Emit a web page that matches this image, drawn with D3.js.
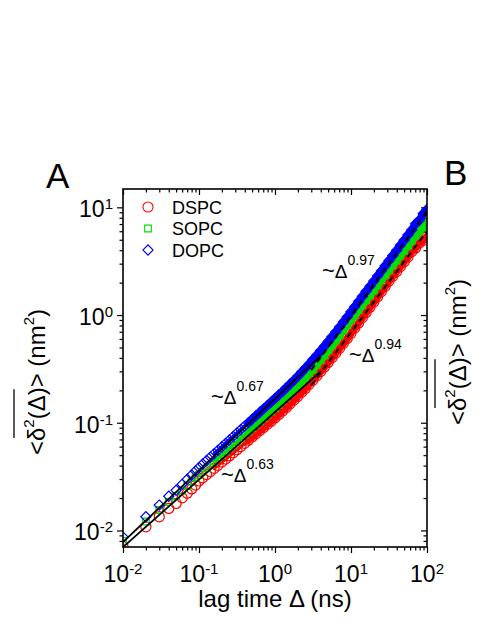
<!DOCTYPE html>
<html><head><meta charset="utf-8">
<script src="https://cdn.jsdelivr.net/npm/d3@7"></script>
<style>html,body{margin:0;padding:0;background:#fff;} svg{display:block;font-family:Arial,"Liberation Sans",sans-serif;}</style>
</head><body><svg id="c" width="480" height="621"></svg>
<script>
// ---------- data ----------
const lagTimes = [0.01,0.02,0.03,0.04,0.05,0.06,0.07,0.08,0.09,
0.1,0.112,0.126,0.141,0.158,0.178,0.2,0.224,0.251,0.282,0.316,0.355,0.398,0.447,0.501,0.562,0.631,0.708,0.794,0.891,
1,1.12,1.26,1.41,1.58,1.78,2,2.24,2.51,2.82,3.16,3.55,3.98,4.47,5.01,5.62,6.31,7.08,7.94,8.91,
10,11.2,12.6,14.1,15.8,17.8,20,22.4,25.1,28.2,31.6,35.5,39.8,44.7,50.1,56.2,63.1,70.8,79.4,89.1,100];

const dspcValues = [0.0071,0.0108,0.0134,0.0160,0.0178,0.0201,0.0222,0.0243,0.0264,
0.0288,0.0308,0.0330,0.0352,0.0377,0.0403,0.0431,0.0460,0.0492,0.0526,0.0562,0.0601,0.0644,0.0689,0.0738,0.0789,0.0845,0.0904,0.0968,0.1035,
0.1109,0.1191,0.1285,0.1387,0.1500,0.1622,0.1762,0.1914,0.2084,0.2275,0.2489,0.2729,0.2992,0.3296,0.3631,0.4009,0.4436,0.4909,0.5458,0.6067,
0.6761,0.7568,0.8453,0.9462,1.057,1.183,1.321,1.479,1.652,1.849,2.065,2.291,2.535,2.818,3.126,3.451,3.890,4.198,4.677,4.932,5.370];

const sopcValues = [0.0080,0.0121,0.0155,0.0184,0.0209,0.0235,0.0260,0.0284,0.0308,
0.0327,0.0352,0.0378,0.0406,0.0436,0.0468,0.0502,0.0540,0.0579,0.0622,0.0668,0.0718,0.0771,0.0828,0.0889,0.0955,0.1026,0.1102,0.1183,0.1271,
0.1365,0.1469,0.1589,0.1718,0.1862,0.2018,0.2198,0.2393,0.2612,0.2858,0.3133,0.3459,0.3819,0.4236,0.4699,0.5224,0.5808,0.6457,0.7211,0.8054,
0.9016,1.002,1.112,1.236,1.371,1.524,1.694,1.888,2.099,2.339,2.600,2.891,3.206,3.565,3.954,4.406,4.898,5.470,5.957,6.531,7.161];

const dopcValues = [0.00867,0.0134,0.0172,0.0208,0.0236,0.0268,0.0299,0.0328,0.0356,
0.0385,0.0414,0.0446,0.0480,0.0516,0.0556,0.0598,0.0644,0.0693,0.0746,0.0803,0.0865,0.0931,0.1002,0.1079,0.1161,0.1250,0.1346,0.1449,0.1560,
0.168,0.181,0.195,0.211,0.229,0.248,0.270,0.294,0.321,0.352,0.386,0.424,0.466,0.514,0.568,0.628,0.697,0.773,0.861,0.959,
1.072,1.197,1.334,1.489,1.660,1.854,2.065,2.307,2.570,2.871,3.199,3.573,3.981,4.446,4.955,5.534,6.166,7.047,7.586,8.730,9.550];

const seriesNames = ["DSPC","SOPC","DOPC"];
const seriesColors = ["#ff0000","#00e000","#0000ff"];

// power-law fits: [start, end] lag times and values
const fitTimes  = [[0.01,4],[0.01,4],[3,100],[3,100]];
const fitValues = [[0.0078,0.42],[0.0070,0.30],[0.307,9.2],[0.222,6.0]];
const fitDashed = [false,false,true,true];
const fitExponents = ["0.67","0.63","0.97","0.94"];

const xTickValues = [0.01,0.1,1,10,100];
const xTickExps = ["-2","-1","0","1","2"];
const yTickValues = [0.01,0.1,1,10];
const yTickExps = ["-2","-1","0","1"];

// ---------- layout ----------
const plot = {left:123, right:427, top:189, bottom:547};
const x = d3.scaleLog().domain([0.01,100]).range([plot.left, plot.right]);
const y = d3.scaleLog().domain([0.00702,14.8]).range([plot.bottom, plot.top]);
const svg = d3.select("#c");

function minorTicks(dom){
  const out=[];
  for(let e=-3;e<=2;e++) for(let m=2;m<=9;m++){const v=m*Math.pow(10,e); if(v>dom[0]&&v<dom[1]) out.push(v);}
  return out;
}
const minorX = minorTicks(x.domain()), minorY = minorTicks(y.domain());

function addAxis(gen, tr, vals, size){
  svg.append("g").attr("transform",tr)
    .call(gen.tickValues(vals).tickSize(size).tickSizeOuter(0).tickFormat(""))
    .call(g=>g.select(".domain").remove())
    .selectAll("line").attr("stroke","#000").attr("stroke-width",1.2);
}
addAxis(d3.axisBottom(x),`translate(0,${plot.bottom})`,xTickValues,6);
addAxis(d3.axisBottom(x),`translate(0,${plot.bottom})`,minorX,3.5);
addAxis(d3.axisTop(x),`translate(0,${plot.top})`,xTickValues,-6);
addAxis(d3.axisTop(x),`translate(0,${plot.top})`,minorX,-3.5);
addAxis(d3.axisLeft(y),`translate(${plot.left},0)`,yTickValues,6);
addAxis(d3.axisLeft(y),`translate(${plot.left},0)`,minorY,3.5);
addAxis(d3.axisRight(y),`translate(${plot.right},0)`,yTickValues,-6);
addAxis(d3.axisRight(y),`translate(${plot.right},0)`,minorY,-3.5);

// data
svg.append("clipPath").attr("id","clip").append("rect")
  .attr("x",plot.left).attr("y",plot.top).attr("width",plot.right-plot.left).attr("height",plot.bottom-plot.top);
const dataG = svg.append("g").attr("clip-path","url(#clip)");

const symCircle = d3.symbol().type(d3.symbolCircle).size(80)();
const symSquare = d3.symbol().type(d3.symbolSquare).size(45)();
const symDiamond = d3.symbol().type(d3.symbolSquare).size(52)();
const symbols = [symCircle, symSquare, symDiamond];
const rotations = [0,0,45];
const allValues = [dspcValues, sopcValues, dopcValues];
const line = d3.line().x(d=>x(d[0])).y(d=>y(d[1])).curve(d3.curveMonotoneX);

allValues.forEach((vals,si)=>{
  const pts = lagTimes.map((t,i)=>[t,vals[i]]);
  // densely packed markers at long lag times merge into a band
  const mid = pts.filter(d=>d[0]>=0.15 && d[0]<=0.45);
  const dense = pts.filter(d=>d[0]>=0.4);
  dataG.append("path").attr("d",line(mid)).attr("fill","none")
    .attr("stroke",seriesColors[si]).attr("stroke-width",3.5).attr("stroke-linecap","round");
  dataG.append("path").attr("d",line(dense)).attr("fill","none")
    .attr("stroke",seriesColors[si]).attr("stroke-width",7.5).attr("stroke-linecap","round");
  dataG.append("g").selectAll("path").data(pts).join("path")
    .attr("d",symbols[si])
    .attr("transform",d=>`translate(${x(d[0])},${y(d[1])}) rotate(${rotations[si]})`)
    .attr("fill","none").attr("stroke",seriesColors[si]).attr("stroke-width",1.2);
});

// fits
const fitLine = d3.line().x(d=>x(d[0])).y(d=>y(d[1]));
fitTimes.forEach((ts,i)=>{
  const pts = ts.map((t,j)=>[t,fitValues[i][j]]);
  dataG.append("path").attr("d",fitLine(pts)).attr("fill","none").attr("stroke","#000")
    .attr("stroke-width",fitDashed[i]?2:1.8).attr("stroke-dasharray",fitDashed[i]?"6,4":null);
});

// frame
svg.append("rect").attr("x",plot.left).attr("y",plot.top).attr("width",plot.right-plot.left).attr("height",plot.bottom-plot.top)
  .attr("fill","none").attr("stroke","#000").attr("stroke-width",1.6);

// tick labels
xTickValues.forEach((v,i)=>{
  const t = svg.append("text").attr("x",x(v)).attr("y",plot.bottom+35).attr("text-anchor","middle").attr("font-size",23);
  t.append("tspan").text("10");
  t.append("tspan").attr("font-size",15).attr("dy",-8).text(xTickExps[i]);
});
yTickValues.forEach((v,i)=>{
  const t = svg.append("text").attr("x",plot.left-10).attr("y",y(v)+10).attr("text-anchor","end").attr("font-size",23);
  t.append("tspan").text("10");
  t.append("tspan").attr("font-size",15).attr("dy",-8).text(yTickExps[i]);
});

// axis titles
svg.append("text").attr("x",(plot.left+plot.right)/2).attr("y",607).attr("text-anchor","middle").attr("font-size",24).text("lag time Δ (ns)");

function yTitle(cx, cy){
  const g = svg.append("g").attr("transform",`translate(${cx},${cy}) rotate(-90)`);
  const t = g.append("text").attr("text-anchor","middle").attr("font-size",24);
  t.append("tspan").text("<δ");
  t.append("tspan").attr("font-size",15).attr("dy",-11).text("2");
  t.append("tspan").attr("dy",11).text("(Δ)> (nm");
  t.append("tspan").attr("font-size",15).attr("dy",-11).text("2");
  t.append("tspan").attr("dy",11).text(")");
  const n = t.node();
  const s = n.getStartPositionOfChar(1).x, e = n.getEndPositionOfChar(5).x;
  g.append("line").attr("x1",s+3).attr("x2",e-2).attr("y1",-31).attr("y2",-31).attr("stroke","#000").attr("stroke-width",1.3);
}
yTitle(45,382);

// legend
const legY = [207,228.5,250];
seriesNames.forEach((nm,i)=>{
  svg.append("path").attr("d",symbols[i]).attr("transform",`translate(148,${legY[i]}) rotate(${rotations[i]})`)
    .attr("fill","none").attr("stroke",seriesColors[i]).attr("stroke-width",1.1);
  svg.append("text").attr("x",172).attr("y",legY[i]+6.5).attr("font-size",18).text(nm);
});

// annotations
const annPos = [[211,404],[221,482],[322,278],[349,362]];
fitExponents.forEach((ex,i)=>{
  const t = svg.append("text").attr("x",annPos[i][0]).attr("y",annPos[i][1]).attr("font-size",19);
  t.append("tspan").attr("font-size",22).text("~");
  t.append("tspan").text("Δ");
  t.append("tspan").attr("font-size",14).attr("dy",-13).text(ex);
});

// panel letters
svg.append("text").attr("x",46).attr("y",188).attr("font-size",35).text("A");
svg.append("text").attr("x",444).attr("y",185).attr("font-size",35).text("B");
// partial panel B
yTitle(466,352);
</script></body></html>
